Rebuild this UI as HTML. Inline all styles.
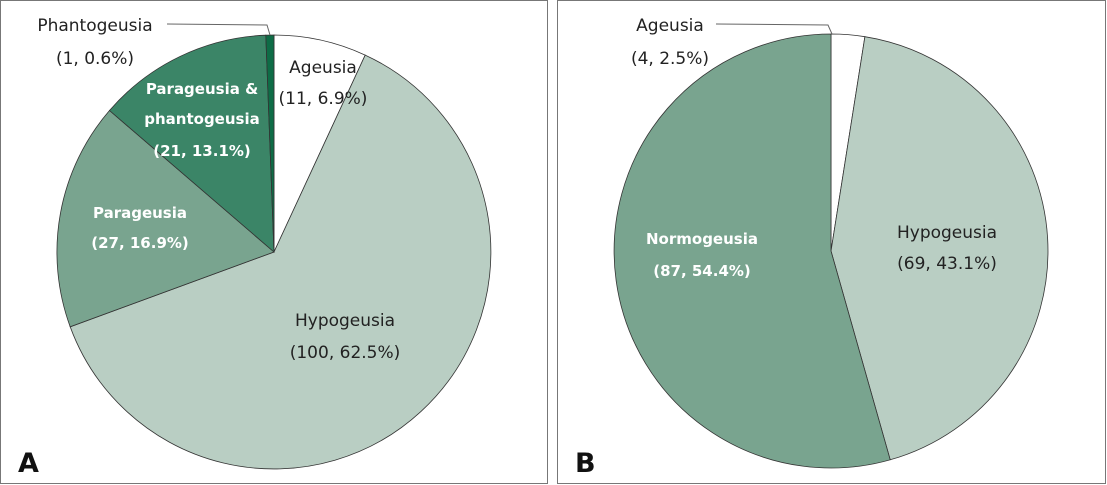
<!DOCTYPE html>
<html><head><meta charset="utf-8"><style>
html,body{margin:0;padding:0;background:#fff}
svg{display:block}
text{font-family:"DejaVu Sans","Liberation Sans",sans-serif;font-size:17px;fill:#222}
.w{fill:#fff;font-weight:bold;font-size:15px}
</style></head><body>
<svg width="1107" height="485" viewBox="0 0 1107 485">
<rect x="0.5" y="0.5" width="547" height="483" fill="#fff" stroke="#777"/>
<rect x="557.5" y="0.5" width="548" height="483" fill="#fff" stroke="#777"/>
<g stroke="#333" stroke-width="0.8">
<path d="M274,252 L274,35 A217,217 0 0 1 365.2,55.1 Z" fill="#fff"/>
<path d="M274,252 L365.2,55.1 A217,217 0 1 1 70.2,326.8 Z" fill="#b9cec3"/>
<path d="M274,252 L70.2,326.8 A217,217 0 0 1 109.5,110.5 Z" fill="#79a48f"/>
<path d="M274,252 L109.5,110.5 A217,217 0 0 1 265.8,35.2 Z" fill="#3b8567"/>
<path d="M274,252 L265.8,35.2 A217,217 0 0 1 274,35 Z" fill="#0e6c46"/>
<path d="M831,251 L831,34 A217,217 0 0 1 864.9,36.7 Z" fill="#fff"/>
<path d="M831,251 L864.9,36.7 A217,217 0 0 1 890.2,459.8 Z" fill="#b9cec3"/>
<path d="M831,251 L890.2,459.8 A217,217 0 1 1 831,34 Z" fill="#79a48f"/>
</g>
<g stroke="#666" fill="none" stroke-width="1">
<path d="M167,24 L267,25 L270,35"/>
<path d="M716,24 L828,25 L832,34"/>
</g>
<text x="95" y="31" text-anchor="middle">Phantogeusia</text>
<text x="95" y="64" text-anchor="middle">(1, 0.6%)</text>
<text x="323" y="73" text-anchor="middle">Ageusia</text>
<text x="323" y="104" text-anchor="middle">(11, 6.9%)</text>
<text class="w" x="202" y="94" text-anchor="middle">Parageusia &amp;</text>
<text class="w" x="202" y="124" text-anchor="middle">phantogeusia</text>
<text class="w" x="202" y="156" text-anchor="middle">(21, 13.1%)</text>
<text class="w" x="140" y="218" text-anchor="middle">Parageusia</text>
<text class="w" x="140" y="248" text-anchor="middle">(27, 16.9%)</text>
<text x="345" y="326" text-anchor="middle">Hypogeusia</text>
<text x="345" y="358" text-anchor="middle">(100, 62.5%)</text>
<text x="670" y="31" text-anchor="middle">Ageusia</text>
<text x="670" y="64" text-anchor="middle">(4, 2.5%)</text>
<text class="w" x="702" y="244" text-anchor="middle">Normogeusia</text>
<text class="w" x="702" y="276" text-anchor="middle">(87, 54.4%)</text>
<text x="947" y="238" text-anchor="middle">Hypogeusia</text>
<text x="947" y="269" text-anchor="middle">(69, 43.1%)</text>
<text x="18" y="472" style="font-size:27px;font-weight:bold;fill:#111">A</text>
<text x="575" y="472" style="font-size:27px;font-weight:bold;fill:#111">B</text>
</svg>
</body></html>
